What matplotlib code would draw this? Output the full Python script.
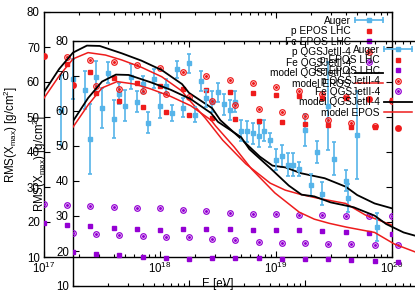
import numpy as np
import matplotlib
matplotlib.use('Agg')
import matplotlib.pyplot as plt
from matplotlib.lines import Line2D
from matplotlib.legend_handler import HandlerTuple, HandlerBase

plt.rcParams['font.family'] = ['Liberation Sans', 'DejaVu Sans']
plt.rcParams['mathtext.fontset'] = 'custom'
plt.rcParams['mathtext.rm'] = 'Liberation Sans'
plt.rcParams['mathtext.it'] = 'Liberation Sans:italic'
plt.rcParams['mathtext.default'] = 'regular'

# ---------------- data ----------------
sim_lgE = [17.0, 17.2, 17.4, 17.6, 17.8, 18.0, 18.2, 18.4, 18.6, 18.8,
           19.0, 19.2, 19.4, 19.6, 19.8, 20.0]
p_epos = [67.4, 65.1, 62.9, 61.1, 59.8, 58.9, 58.0, 57.7, 57.2, 56.9,
          56.3, 56.1, 55.5, 55.3, 55.1, 54.9]
fe_epos = [19.8, 19.2, 18.8, 18.4, 18.0, 17.8, 17.9, 17.9, 17.9, 17.7,
           17.7, 17.6, 17.3, 17.1, 16.8, 16.5]
p_qgs = [67.4, 67.1, 66.4, 65.6, 64.8, 63.9, 62.8, 61.7, 60.6, 59.6,
         58.5, 57.5, 56.7, 55.7, 55.1, 54.6]
fe_qgs = [25.1, 24.8, 24.6, 24.4, 24.1, 23.9, 23.5, 23.1, 22.7, 22.4,
          22.2, 22.0, 21.9, 21.8, 21.7, 21.7]

auger_lgE = [17.15, 17.25, 17.35, 17.45, 17.55, 17.65, 17.75, 17.85, 17.95,
             18.05, 18.15, 18.25, 18.35, 18.45, 18.55, 18.65, 18.75, 18.85,
             18.95, 19.05, 19.15, 19.25, 19.35, 19.45, 19.62]
auger_rms = [51.9, 60.8, 57.7, 61.5, 62.7, 56.7, 61.5, 59.4, 60.9,
             58.9, 63.6, 65.3, 60.3, 54.3, 53.7, 54.4, 46.0, 44.6,
             43.4, 38.9, 36.4, 46.3, 40.1, 53.1, 26.8]
auger_err = [10.0, 5.7, 5.4, 4.5, 2.9, 3.1, 3.6, 2.4, 2.7,
             2.1, 2.4, 2.7, 2.9, 3.0, 3.0, 3.0, 3.0, 3.3,
             2.1, 3.1, 3.2, 4.7, 3.1, 12.5, 4.0]

mqgs_lgE = [17.0, 17.13, 17.25, 17.37, 17.48, 17.67, 17.84, 18.015, 18.19,
            18.25, 18.45, 18.52, 18.70, 18.86, 18.97, 19.08, 19.22, 19.42,
            19.60, 19.70, 19.85, 20.0]
mqgs_rms = [57.1, 63.7, 68.4, 70.4, 70.3, 68.2, 66.1, 63.4, 59.4,
            56.9, 52.5, 49.1, 43.7, 38.7, 36.1, 35.6, 33.9, 32.5,
            30.1, 27.7, 25.3, 23.9]
mepos_lgE = [17.0, 17.13, 17.25, 17.38, 17.53, 17.67, 17.84, 18.015, 18.19,
             18.23, 18.39, 18.54, 18.74, 18.95, 19.08, 19.21, 19.36, 19.60,
             19.77, 20.0]
mepos_rms = [55.4, 61.7, 66.6, 68.4, 67.7, 66.3, 64.2, 61.5, 57.4,
             55.7, 49.7, 43.4, 36.6, 31.1, 29.1, 27.9, 26.8, 25.3,
             22.0, 19.1]

labels = ['Auger', 'p EPOS LHC', 'Fe EPOS LHC', 'p QGSJetII-4',
          'Fe QGSJetII-4', 'model QGSJetII-4', 'model EPOS']

BLUE = '#56b4e9'
RED = '#ee1c1c'
PURPLE = '#9400d3'


def E(v):
    return 10.0 ** np.asarray(v)


class HErr(HandlerBase):
    def create_artists(self, legend, orig, xd, yd, w, h, fontsize, trans):
        y = (h - yd) / 2.0
        x0, x1 = -xd, w - xd
        ln = Line2D([x0, x1], [y, y], color=BLUE, lw=1.2, marker='|',
                    ms=4, mew=1.2)
        pt = Line2D([(x0 + x1) / 2], [y], color=BLUE, marker='s', ms=3,
                    ls='none')
        for a in (ln, pt):
            a.set_transform(trans)
        return [ln, pt]


def draw(ax):
    ax.set_facecolor('none')
    ax.errorbar(E(auger_lgE), auger_rms, yerr=auger_err, fmt='s', color=BLUE,
                ms=3, elinewidth=1.2, capsize=1.6, capthick=1.2, zorder=3)
    ax.plot(E(sim_lgE), p_epos, 's', color=RED, ms=3, zorder=4)
    ax.plot(E(sim_lgE), fe_epos, 's', color=PURPLE, ms=3, zorder=4)
    ax.plot(E(sim_lgE), p_qgs, 'o', mfc='none', mec=RED, ms=4, mew=0.9, zorder=4)
    ax.plot(E(sim_lgE), p_qgs, 'o', color=RED, ms=1.2, zorder=4)
    ax.plot(E(sim_lgE), fe_qgs, 'o', mfc='none', mec=PURPLE, ms=4, mew=0.9, zorder=4)
    ax.plot(E(sim_lgE), fe_qgs, 'o', color=PURPLE, ms=1.2, zorder=4)
    ax.plot(E(mqgs_lgE), mqgs_rms, '-', color='black', lw=1.3, zorder=5)
    ax.plot(E(mepos_lgE), mepos_rms, '-', color=RED, lw=1.1, zorder=5)

    ax.set_xscale('log')
    ax.set_xlim(1e17, 1e20)
    ax.set_ylim(10, 80)
    ax.set_yticks(np.arange(10, 81, 10))
    ax.tick_params(which='both', direction='in', top=True, right=True,
                   labelsize=8.3, width=0.8)
    ax.tick_params(which='major', length=4, pad=3)
    ax.tick_params(which='minor', length=2)
    ax.tick_params(axis='y', which='minor', left=False, right=False)
    for s in ax.spines.values():
        s.set_linewidth(1.0)
    ax.set_xlabel('E [eV]', fontsize=8.3, labelpad=1)
    ax.set_ylabel(r'RMS(X$_{max}$) [g/cm$^2$]', fontsize=8.3, labelpad=5)

    h_aug = Line2D([], [], color=BLUE)
    h_pe = Line2D([], [], color=RED, marker='s', ms=3, ls='none')
    h_fe = Line2D([], [], color=PURPLE, marker='s', ms=3, ls='none')
    h_pq = (Line2D([], [], marker='o', mfc='none', mec=RED, ms=4, mew=0.9, ls='none'),
            Line2D([], [], marker='o', color=RED, ms=1.2, ls='none'))
    h_fq = (Line2D([], [], marker='o', mfc='none', mec=PURPLE, ms=4, mew=0.9, ls='none'),
            Line2D([], [], marker='o', color=PURPLE, ms=1.2, ls='none'))
    h_mq = Line2D([], [], color='black', lw=1.3)
    h_me = Line2D([], [], color=RED, lw=1.1)
    leg = ax.legend([h_aug, h_pe, h_fe, h_pq, h_fq, h_mq, h_me], labels,
                    loc='upper right', bbox_to_anchor=(0.975, 0.985),
                    frameon=False, markerfirst=False, fontsize=7.3,
                    handlelength=2.8, handletextpad=0.4, labelspacing=0.05,
                    borderpad=0, borderaxespad=0, numpoints=1,
                    handler_map={h_aug: HErr(), tuple: HandlerTuple(ndivide=1)})
    leg.set_zorder(6)


fig = plt.figure(figsize=(4.15, 2.91), dpi=100)
W, H = 415.0, 291.0
ax1 = fig.add_axes([44 / W, (H - 257) / H, 348 / W, 245 / H])
ax2 = fig.add_axes([73 / W, (H - 286) / H, 348 / W, 245 / H])
draw(ax1)
draw(ax2)
fig.savefig('out.png', dpi=100)
